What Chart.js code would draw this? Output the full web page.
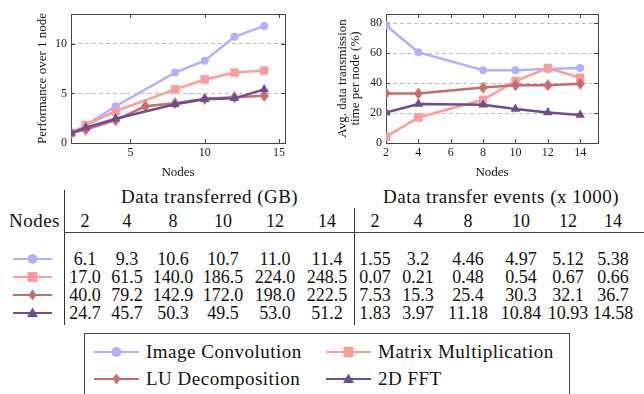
<!DOCTYPE html>
<html>
<head>
<meta charset="utf-8">
<script src="https://cdn.jsdelivr.net/npm/chart.js@4.4.0/dist/chart.umd.min.js"></script>
<style>
html, body { margin: 0; padding: 0; background: #fff; }
#page { position: relative; width: 644px; height: 394px; overflow: hidden; font-family: "Liberation Serif", serif; color: #111; }
#perfBox { position: absolute; left: 0; top: 0; width: 320px; height: 185px; }
#transBox { position: absolute; left: 320px; top: 0; width: 324px; height: 185px; }
.cell { position: absolute; width: 80px; text-align: center; font-size: 18px; line-height: 20px; white-space: nowrap; }
.head { position: absolute; font-size: 19px; letter-spacing: 0.5px; line-height: 22px; white-space: nowrap; }
.vline { position: absolute; width: 1px; background: #333; }
.hline { position: absolute; height: 1px; background: #444; }
.mark { position: absolute; }
#legend { position: absolute; left: 84px; top: 333px; width: 484px; height: 80px; border: 1px solid #444; }
</style>
</head>
<body>
<div id="page">
  <div id="perfBox"><canvas id="perfChart"></canvas></div>
  <div id="transBox"><canvas id="transChart"></canvas></div>
  <div id="table"></div>
  <div id="legend"></div>
</div>
<script>
// Performance over 1 node (left plot)
const perfNodes = [1, 2, 4, 8, 10, 12, 14];
const perfNodesLU = [1, 2, 4, 6, 8, 10, 12, 14];
const perfConv = [1.0, 1.8, 3.7, 7.1, 8.3, 10.7, 11.8];
const perfMatMul = [1.0, 1.8, 3.2, 5.4, 6.4, 7.1, 7.3];
const perfLU = [1.0, 1.35, 2.3, 3.7, 4.0, 4.45, 4.6, 4.75];
const perfFFT = [1.0, 1.55, 2.45, 3.9, 4.4, 4.5, 5.4];
const perfXTicks = [5, 10, 15];
const perfYTicks = [0, 5, 10];

// Avg. data transmission time per node (right plot)
const transNodes = [2, 4, 8, 10, 12, 14];
const transConv = [78.5, 60.5, 48.5, 48.5, 49.3, 50.0];
const transMatMul = [4.2, 17.0, 28.8, 41.3, 50.0, 43.5];
const transLU = [33.0, 33.0, 37.0, 38.5, 38.5, 39.5];
const transFFT = [20.3, 26.0, 25.5, 22.6, 20.3, 18.6];
const transXTicks = [2, 4, 6, 8, 10, 12, 14];
const transYTicks = [0, 20, 40, 60, 80];

// table
const tableNodes = [2, 4, 8, 10, 12, 14];
const gbConv = ['6.1', '9.3', '10.6', '10.7', '11.0', '11.4'];
const gbMatMul = ['17.0', '61.5', '140.0', '186.5', '224.0', '248.5'];
const gbLU = ['40.0', '79.2', '142.9', '172.0', '198.0', '222.5'];
const gbFFT = ['24.7', '45.7', '50.3', '49.5', '53.0', '51.2'];
const evConv = ['1.55', '3.2', '4.46', '4.97', '5.12', '5.38'];
const evMatMul = ['0.07', '0.21', '0.48', '0.54', '0.67', '0.66'];
const evLU = ['7.53', '15.3', '25.4', '30.3', '32.1', '36.7'];
const evFFT = ['1.83', '3.97', '11.18', '10.84', '10.93', '14.58'];

const seriesNames = ['Image Convolution', 'Matrix Multiplication', 'LU Decomposition', '2D FFT'];
const seriesColors = ['#b1b1ff', '#ff9d9d', '#c96b6b', '#6a4f8f'];
const seriesShapes = ['circle', 'square', 'diamond', 'triangle'];

function diamondImage(color) {
    const c = document.createElement('canvas');
    c.width = 9; c.height = 12;
    const g = c.getContext('2d');
    g.fillStyle = color;
    g.beginPath();
    g.moveTo(4.5, 0); g.lineTo(9, 6); g.lineTo(4.5, 12); g.lineTo(0, 6);
    g.closePath();
    g.fill();
    return c;
}

function pointOpts(i) {
    const shape = seriesShapes[i];
    if (shape === 'circle') return { pointStyle: 'circle', pointRadius: 4 };
    if (shape === 'square') return { pointStyle: 'rect', pointRadius: 6 };
    if (shape === 'triangle') return { pointStyle: 'triangle', pointRadius: 5.5 };
    return { pointStyle: diamondImage(seriesColors[i]), pointRadius: 5 };
}

function makeDataset(i, xs, ys) {
    return Object.assign({
        label: seriesNames[i],
        data: xs.map((x, k) => ({ x: x, y: ys[k] })),
        borderColor: seriesColors[i],
        backgroundColor: seriesColors[i],
        pointBackgroundColor: seriesColors[i],
        pointBorderColor: seriesColors[i],
        pointBorderWidth: 0,
        borderWidth: 2.5,
        tension: 0,
        order: 3 - i
    }, pointOpts(i));
}

// box + inward tick marks like pgfplots
const frame = {
    id: 'frame',
    beforeDatasetsDraw(chart) {
        const { ctx, chartArea: a, scales } = chart;
        ctx.save();
        ctx.strokeStyle = '#444';
        ctx.lineWidth = 1;
        ctx.beginPath();
        scales.x.ticks.forEach(t => {
            const px = Math.round(scales.x.getPixelForValue(t.value)) + 0.5;
            ctx.moveTo(px, a.bottom); ctx.lineTo(px, a.bottom - 4);
            ctx.moveTo(px, a.top); ctx.lineTo(px, a.top + 4);
        });
        scales.y.ticks.forEach(t => {
            const py = Math.round(scales.y.getPixelForValue(t.value)) + 0.5;
            ctx.moveTo(a.left, py); ctx.lineTo(a.left + 4, py);
            ctx.moveTo(a.right, py); ctx.lineTo(a.right - 4, py);
        });
        ctx.stroke();
        ctx.strokeRect(Math.round(a.left) + 0.5, Math.round(a.top) + 0.5,
            Math.round(a.right - a.left), Math.round(a.bottom - a.top));
        ctx.restore();
    }
};

Chart.defaults.font.family = '"Liberation Serif", serif';
Chart.defaults.color = '#222';

function axisOpts(min, max, ticks, title, fitSize, isX, titlePad, titleFont) {
    const o = {
        type: 'linear',
        min: min,
        max: max,
        afterBuildTicks: s => { s.ticks = ticks.map(v => ({ value: v })); },
        afterFit: s => { if (isX) s.height = fitSize; else s.width = fitSize; },
        ticks: { font: { size: 12 }, color: '#222', padding: isX ? 3 : 4 },
        border: { display: false, dash: [4, 3] },
        grid: { display: !isX, drawTicks: false, color: '#bdbdbd', lineWidth: 1 },
        title: { display: true, text: title, font: titleFont, color: '#111', padding: titlePad }
    };
    return o;
}

new Chart(document.getElementById('perfChart'), {
    type: 'line',
    data: {
        datasets: [
            makeDataset(0, perfNodes, perfConv),
            makeDataset(1, perfNodes, perfMatMul),
            makeDataset(2, perfNodesLU, perfLU),
            makeDataset(3, perfNodes, perfFFT)
        ]
    },
    options: {
        responsive: true,
        maintainAspectRatio: false,
        animation: false,
        layout: { padding: { left: 0, right: 35, top: 14, bottom: 0 } },
        plugins: { legend: { display: false }, tooltip: { enabled: false } },
        scales: {
            x: axisOpts(1, 15.4, perfXTicks, 'Nodes', 42, true, { top: 0, bottom: 5 }, { size: 13 }),
            y: axisOpts(0, 13, perfYTicks, 'Performance over 1 node', 71, false, { top: 35, bottom: 0 }, { size: 13 })
        }
    },
    plugins: [frame]
});

new Chart(document.getElementById('transChart'), {
    type: 'line',
    data: {
        datasets: [
            makeDataset(0, transNodes, transConv),
            makeDataset(1, transNodes, transMatMul),
            makeDataset(2, transNodes, transLU),
            makeDataset(3, transNodes, transFFT)
        ]
    },
    options: {
        responsive: true,
        maintainAspectRatio: false,
        animation: false,
        layout: { padding: { left: 0, right: 46, top: 14, bottom: 0 } },
        plugins: { legend: { display: false }, tooltip: { enabled: false } },
        scales: {
            x: axisOpts(2, 15.1, transXTicks, 'Nodes', 42, true, { top: 0, bottom: 5 }, { size: 13 }),
            y: axisOpts(0, 86, transYTicks, ['Avg. data transmission', 'time per node (%)'], 66, false,
                { top: 16.5, bottom: 0 }, { size: 13, lineHeight: 1.0 })
        }
    },
    plugins: [frame]
});

// small line+marker glyph used in the table and the legend
function markerSvg(i, w) {
    const c = seriesColors[i], cx = w / 2, cy = 7;
    let shape = '';
    if (seriesShapes[i] === 'circle') shape = `<circle cx="${cx}" cy="${cy}" r="5" fill="${c}"/>`;
    if (seriesShapes[i] === 'square') shape = `<rect x="${cx - 5}" y="${cy - 5}" width="10" height="10" fill="${c}"/>`;
    if (seriesShapes[i] === 'diamond') shape = `<polygon points="${cx},${cy - 5.5} ${cx + 4},${cy} ${cx},${cy + 5.5} ${cx - 4},${cy}" fill="${c}"/>`;
    if (seriesShapes[i] === 'triangle') shape = `<polygon points="${cx},${cy - 5.5} ${cx + 5.5},${cy + 4} ${cx - 5.5},${cy + 4}" fill="${c}"/>`;
    return `<svg width="${w}" height="14"><line x1="0" y1="${cy}" x2="${w}" y2="${cy}" stroke="${c}" stroke-width="2"/>${shape}</svg>`;
}

const table = document.getElementById('table');
function put(cls, text, left, top, extra) {
    const d = document.createElement('div');
    d.className = cls;
    d.style.left = left + 'px';
    d.style.top = top + 'px';
    if (extra) Object.assign(d.style, extra);
    d.innerHTML = text;
    table.appendChild(d);
}

const gbCols = [85, 127, 173, 223, 275, 327];
const evCols = [375, 418, 468, 521, 568, 613];
const rowY = [259, 277, 295, 313];
const gbRows = [gbConv, gbMatMul, gbLU, gbFFT];
const evRows = [evConv, evMatMul, evLU, evFFT];

put('head', 'Data transferred (GB)', 121, 186);
put('head', 'Data transfer events (x 1000)', 383, 186);
put('head', 'Nodes', 0, 210, { width: '60px', textAlign: 'right' });
tableNodes.forEach((n, k) => {
    put('cell', n, gbCols[k] - 40, 211);
    put('cell', n, evCols[k] - 40, 211);
});
gbRows.forEach((row, r) => {
    put('mark', markerSvg(r, 39), 13, rowY[r] - 7);
    row.forEach((v, k) => put('cell', v, gbCols[k] - 40, rowY[r] - 10));
    evRows[r].forEach((v, k) => put('cell', v, evCols[k] - 40, rowY[r] - 10));
});
put('vline', '', 64, 190, { height: '135px' });
put('vline', '', 354, 208, { height: '117px' });
put('hline', '', 64, 232, { width: '580px' });

// legend
const legend = document.getElementById('legend');
const legendPos = [[9, 18], [241, 18], [9, 45], [241, 45]];
seriesNames.forEach((name, i) => {
    const m = document.createElement('div');
    m.className = 'mark';
    m.style.left = legendPos[i][0] + 'px';
    m.style.top = (legendPos[i][1] - 7) + 'px';
    m.innerHTML = markerSvg(i, 45);
    legend.appendChild(m);
    const t = document.createElement('div');
    t.className = 'head';
    t.style.left = (legendPos[i][0] + 52) + 'px';
    t.style.top = (legendPos[i][1] - 11) + 'px';
    t.textContent = name;
    legend.appendChild(t);
});
</script>
</body>
</html>
